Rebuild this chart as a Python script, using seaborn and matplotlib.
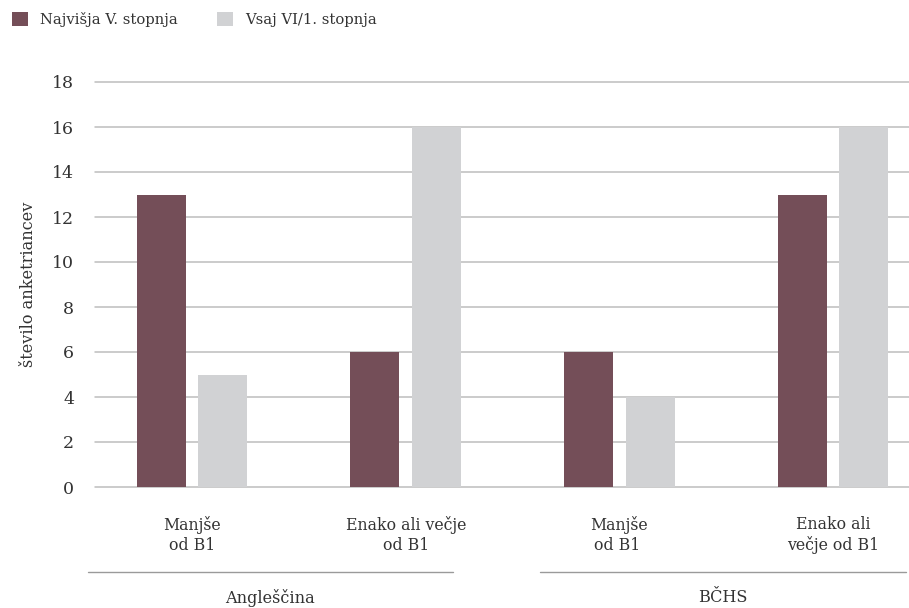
import matplotlib
matplotlib.use("Agg")
import matplotlib.pyplot as plt
import matplotlib.transforms as mtransforms
from matplotlib.patches import Patch
import pandas as pd
import seaborn as sns

# Data
categories = ["Manjše\nod B1", "Enako ali večje\nod B1", "Manjše\nod B1 ", "Enako ali\nvečje od B1"]
series_names = ["Najvišja V. stopnja", "Vsaj VI/1. stopnja"]
highest_v = [13, 6, 6, 13]
at_least_vi = [5, 16, 4, 16]
groups = ["Angleščina", "BČHS"]
y_ticks = [0, 2, 4, 6, 8, 10, 12, 14, 16, 18]

colors = ["#744E58", "#D1D2D4"]
grid_color = "#BDBDBD"
text_color = "#333333"

df = pd.DataFrame({
    "kategorija": categories * 2,
    "serija": [series_names[0]] * 4 + [series_names[1]] * 4,
    "vrednost": highest_v + at_least_vi,
})

sns.set_theme(style="white")
plt.rcParams["font.family"] = ["DejaVu Serif", "DejaVu Sans"]

fig = plt.figure(figsize=(9.09, 6.08), dpi=100)
ax = fig.add_axes([95 / 909, (608 - 487) / 608, (909 - 95) / 909, (487 - 82) / 608])

sns.barplot(data=df, x="kategorija", y="vrednost", hue="serija",
            hue_order=series_names, palette=colors, order=categories,
            width=0.576, gap=0.205, saturation=1, linewidth=0,
            edgecolor="none", ax=ax, legend=False)

ax.set_xlim(-0.454, 3.355)
ax.set_ylim(0, 18)
ax.set_yticks(y_ticks)
ax.yaxis.grid(True, color=grid_color, linewidth=1.1)
ax.set_axisbelow(True)
for g in ax.get_ygridlines():
    g.set_clip_on(False)
for s in ax.spines.values():
    s.set_visible(False)

ax.tick_params(axis="y", length=0, pad=15, labelsize=12.5, labelcolor=text_color)
ax.tick_params(axis="x", length=0, pad=21, labelsize=11.3, labelcolor=text_color)
for lab in ax.get_xticklabels():
    lab.set_linespacing(1.2)
ax.set_xlabel("")
ax.set_ylabel("število anketriancev", fontsize=11.6, color=text_color, labelpad=11)

# Group separators and group names beneath the category labels
trans = mtransforms.blended_transform_factory(ax.transData, fig.transFigure)
spans = [(-0.487, 1.221), (1.628, 3.341)]
for (x0, x1), name in zip(spans, groups):
    ax.plot([x0, x1], [(608 - 572) / 608] * 2, color="#9A9A9A", linewidth=1,
            transform=trans, clip_on=False)
    ax.text((x0 + x1) / 2, (608 - 598) / 608, name, transform=trans,
            ha="center", va="center", fontsize=11.6, color=text_color)

handles = [Patch(facecolor=c, edgecolor="none") for c in colors]
fig.legend(handles, series_names, loc="upper left", bbox_to_anchor=(0.0, 1.0),
           ncol=2, frameon=False, fontsize=10.6, handlelength=1.09, handleheight=1.09,
           handletextpad=0.8, columnspacing=2.7, borderaxespad=0.4,
           labelcolor=text_color)

fig.savefig("out.png", dpi=100)
